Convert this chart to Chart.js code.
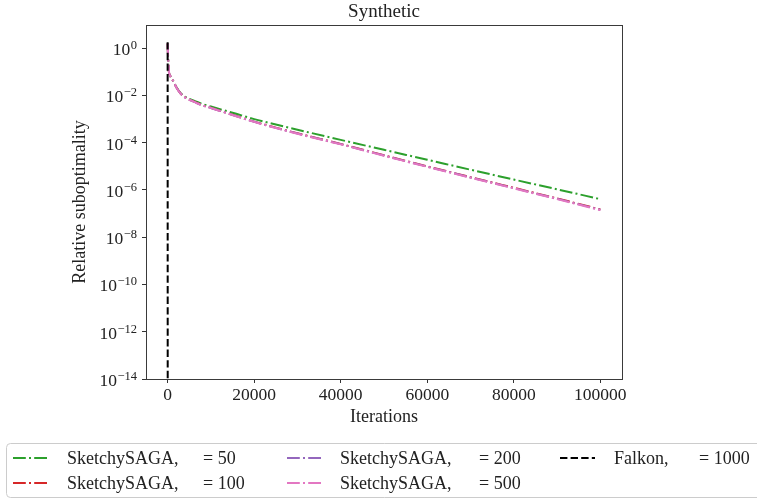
<!DOCTYPE html>
<html>
<head>
<meta charset="utf-8">
<title>Synthetic</title>
<script src="https://cdn.jsdelivr.net/npm/chart.js@4.4.1/dist/chart.umd.min.js"></script>
<style>
  html, body { margin: 0; padding: 0; background: #fff; }
  #wrap { width: 757px; height: 499px; position: relative; }
</style>
</head>
<body>
<div id="wrap"><canvas id="chart" width="757" height="499"></canvas></div>
<script>
// Iteration counts where the SketchySAGA runs were logged
const iterations = [0, 150, 300, 600, 1000, 1500, 2000, 3000, 4000, 5000, 6500, 8000, 10000,
  12500, 15000, 20000, 25000, 30000, 40000, 50000, 60000, 70000, 80000, 90000, 100000];

// Relative suboptimality per sketch size
const saga50 = [1.6, 0.25, 0.1, 0.068, 0.05, 0.035, 0.023, 0.0126, 0.0089, 0.0072, 0.0056, 0.0044, 0.0034,
  0.0025, 0.00186, 0.001, 5.9e-4, 3.55e-4, 1.32e-4, 5.0e-5, 1.9e-5, 7.2e-6, 2.75e-6, 1.07e-6, 4.1e-7];
const saga100 = [1.6, 0.25, 0.1, 0.068, 0.05, 0.035, 0.0222, 0.0121, 0.0084, 0.0067, 0.0051, 0.0039, 0.003,
  0.00215, 0.00152, 7.8e-4, 4.35e-4, 2.5e-4, 8.9e-5, 2.95e-5, 1.0e-5, 3.5e-6, 1.24e-6, 4.4e-7, 1.5e-7];
const saga200 = [1.6, 0.25, 0.1, 0.068, 0.05, 0.035, 0.0221, 0.0121, 0.0083, 0.0066, 0.005, 0.0038, 0.00297,
  0.00212, 0.0015, 7.7e-4, 4.25e-4, 2.45e-4, 8.7e-5, 2.88e-5, 9.8e-6, 3.4e-6, 1.2e-6, 4.25e-7, 1.45e-7];
const saga500 = [1.6, 0.25, 0.1, 0.068, 0.05, 0.035, 0.022, 0.012, 0.0083, 0.0066, 0.005, 0.0038, 0.00295,
  0.0021, 0.00148, 7.6e-4, 4.2e-4, 2.4e-4, 8.5e-5, 2.8e-5, 9.5e-6, 3.3e-6, 1.17e-6, 4.1e-7, 1.4e-7];

// Falkon converges within a handful of iterations
const falkonIters = [0, 3, 6, 10, 15, 20];
const falkonVals = [1.8, 1e-2, 1e-5, 1e-9, 1e-13, 1e-17];

const sketchSizes = [50, 100, 200, 500];
const falkonSize = 1000;

// Axis ticks
const xTicks = [0, 20000, 40000, 60000, 80000, 100000];
const yExponents = [0, -2, -4, -6, -8, -10, -12, -14];

const SERIF = "'Liberation Serif', 'DejaVu Serif', serif";
const LW = 2;
const DASHDOT = [6.4 * LW, 1.6 * LW, 1 * LW, 1.6 * LW];
const DASHED = [3.7 * LW, 1.6 * LW];
const TICK_LEN = 4;

function points(xs, ys) {
  return xs.map((x, i) => ({ x: x, y: ys[i] }));
}

const sagaColors = ['#2ca02c', '#d62728', '#9467bd', '#e377c2'];
const sagaSeries = [saga50, saga100, saga200, saga500];

const datasets = sagaSeries.map((vals, i) => ({
  label: 'SketchySAGA,',
  param: sketchSizes[i],
  data: points(iterations, vals),
  borderColor: sagaColors[i],
  borderWidth: LW,
  borderDash: DASHDOT,
  pointRadius: 0,
  cubicInterpolationMode: 'monotone',
  order: 4 - i
}));

datasets.push({
  label: 'Falkon,',
  param: falkonSize,
  data: points(falkonIters, falkonVals),
  borderColor: '#000000',
  borderWidth: LW,
  borderDash: DASHED,
  pointRadius: 0,
  tension: 0,
  order: 0
});

function supText(n) {
  return n < 0 ? '\u2212' + Math.abs(n) : String(n);
}

// Frame, tick labels, titles and legend in matplotlib style
const decorations = {
  id: 'decorations',
  afterDraw(chart) {
    const ctx = chart.ctx;
    const area = chart.chartArea;
    const xs = chart.scales.x;
    const ys = chart.scales.y;
    ctx.save();

    // frame
    ctx.strokeStyle = '#3a3a3a';
    ctx.lineWidth = 1;
    ctx.setLineDash([]);
    ctx.strokeRect(Math.round(area.left) + 0.5, Math.round(area.top) + 0.5,
      Math.round(area.right - area.left), Math.round(area.bottom - area.top));

    ctx.fillStyle = '#222';

    // x tick labels
    ctx.font = '17.5px ' + SERIF;
    ctx.textAlign = 'center';
    ctx.textBaseline = 'alphabetic';
    xTicks.forEach(v => {
      ctx.fillText(String(v), xs.getPixelForValue(v), area.bottom + TICK_LEN + 17);
    });

    // y tick labels as 10^e
    yExponents.forEach(e => {
      const y = ys.getPixelForValue(Math.pow(10, e));
      const exp = supText(e);
      ctx.font = '12.5px ' + SERIF;
      const wExp = ctx.measureText(exp).width;
      const right = area.left - TICK_LEN - 5;
      ctx.textAlign = 'left';
      ctx.fillText(exp, right - wExp, y + 1);
      ctx.font = '17.5px ' + SERIF;
      ctx.textAlign = 'right';
      ctx.fillText('10', right - wExp - 0.5, y + 7);
    });

    // axis titles
    ctx.font = '18px ' + SERIF;
    ctx.textAlign = 'center';
    ctx.textBaseline = 'middle';
    ctx.fillText('Iterations', (area.left + area.right) / 2, 417);
    ctx.save();
    ctx.translate(80, (area.top + area.bottom) / 2);
    ctx.rotate(-Math.PI / 2);
    ctx.fillText('Relative suboptimality', 0, 0);
    ctx.restore();

    ctx.font = '19px ' + SERIF;
    ctx.fillText('Synthetic', (area.left + area.right) / 2, 12);

    // legend box
    ctx.fillStyle = 'rgba(255,255,255,0.8)';
    ctx.strokeStyle = '#cccccc';
    ctx.beginPath();
    ctx.roundRect(6.5, 443.5, 780, 54, 4);
    ctx.fill();
    ctx.stroke();

    const slots = [
      { line: 13, text: 67, eq: 203, y: 458 },
      { line: 13, text: 67, eq: 203, y: 483 },
      { line: 287, text: 340, eq: 479, y: 458 },
      { line: 287, text: 340, eq: 479, y: 483 },
      { line: 560, text: 614, eq: 699, y: 458 }
    ];
    const legendSets = chart.data.datasets;
    legendSets.forEach((ds, i) => {
      const s = slots[i];
      ctx.strokeStyle = ds.borderColor;
      ctx.lineWidth = ds.borderWidth;
      ctx.setLineDash(ds.borderDash);
      ctx.beginPath();
      ctx.moveTo(s.line, s.y);
      ctx.lineTo(s.line + 35, s.y);
      ctx.stroke();
      ctx.setLineDash([]);
      ctx.fillStyle = '#222';
      ctx.font = '18px ' + SERIF;
      ctx.textAlign = 'left';
      ctx.textBaseline = 'middle';
      ctx.fillText(ds.label, s.text, s.y + 1);
      ctx.fillText('= ' + ds.param, s.eq, s.y + 1);
    });

    ctx.restore();
  }
};

new Chart(document.getElementById('chart'), {
  type: 'line',
  data: { datasets: datasets },
  options: {
    responsive: false,
    animation: false,
    events: [],
    layout: {
      padding: { left: 146 - TICK_LEN, right: 757 - 622, top: 25, bottom: 499 - 379 - TICK_LEN }
    },
    plugins: {
      legend: { display: false },
      tooltip: { enabled: false },
      title: { display: false }
    },
    scales: {
      x: {
        type: 'linear',
        min: -5000,
        max: 105000,
        afterBuildTicks: s => { s.ticks = xTicks.map(v => ({ value: v })); },
        afterFit: s => { s.height = TICK_LEN; },
        ticks: { display: false },
        border: { display: false },
        grid: { drawOnChartArea: false, tickLength: TICK_LEN, color: '#333', tickWidth: 1 }
      },
      y: {
        type: 'logarithmic',
        min: 1e-14,
        max: 9.6,
        afterBuildTicks: s => { s.ticks = yExponents.map(e => ({ value: Math.pow(10, e) })); },
        afterFit: s => { s.width = TICK_LEN; },
        ticks: { display: false },
        border: { display: false },
        grid: { drawOnChartArea: false, tickLength: TICK_LEN, color: '#333', tickWidth: 1 }
      }
    }
  },
  plugins: [decorations]
});
</script>
</body>
</html>
